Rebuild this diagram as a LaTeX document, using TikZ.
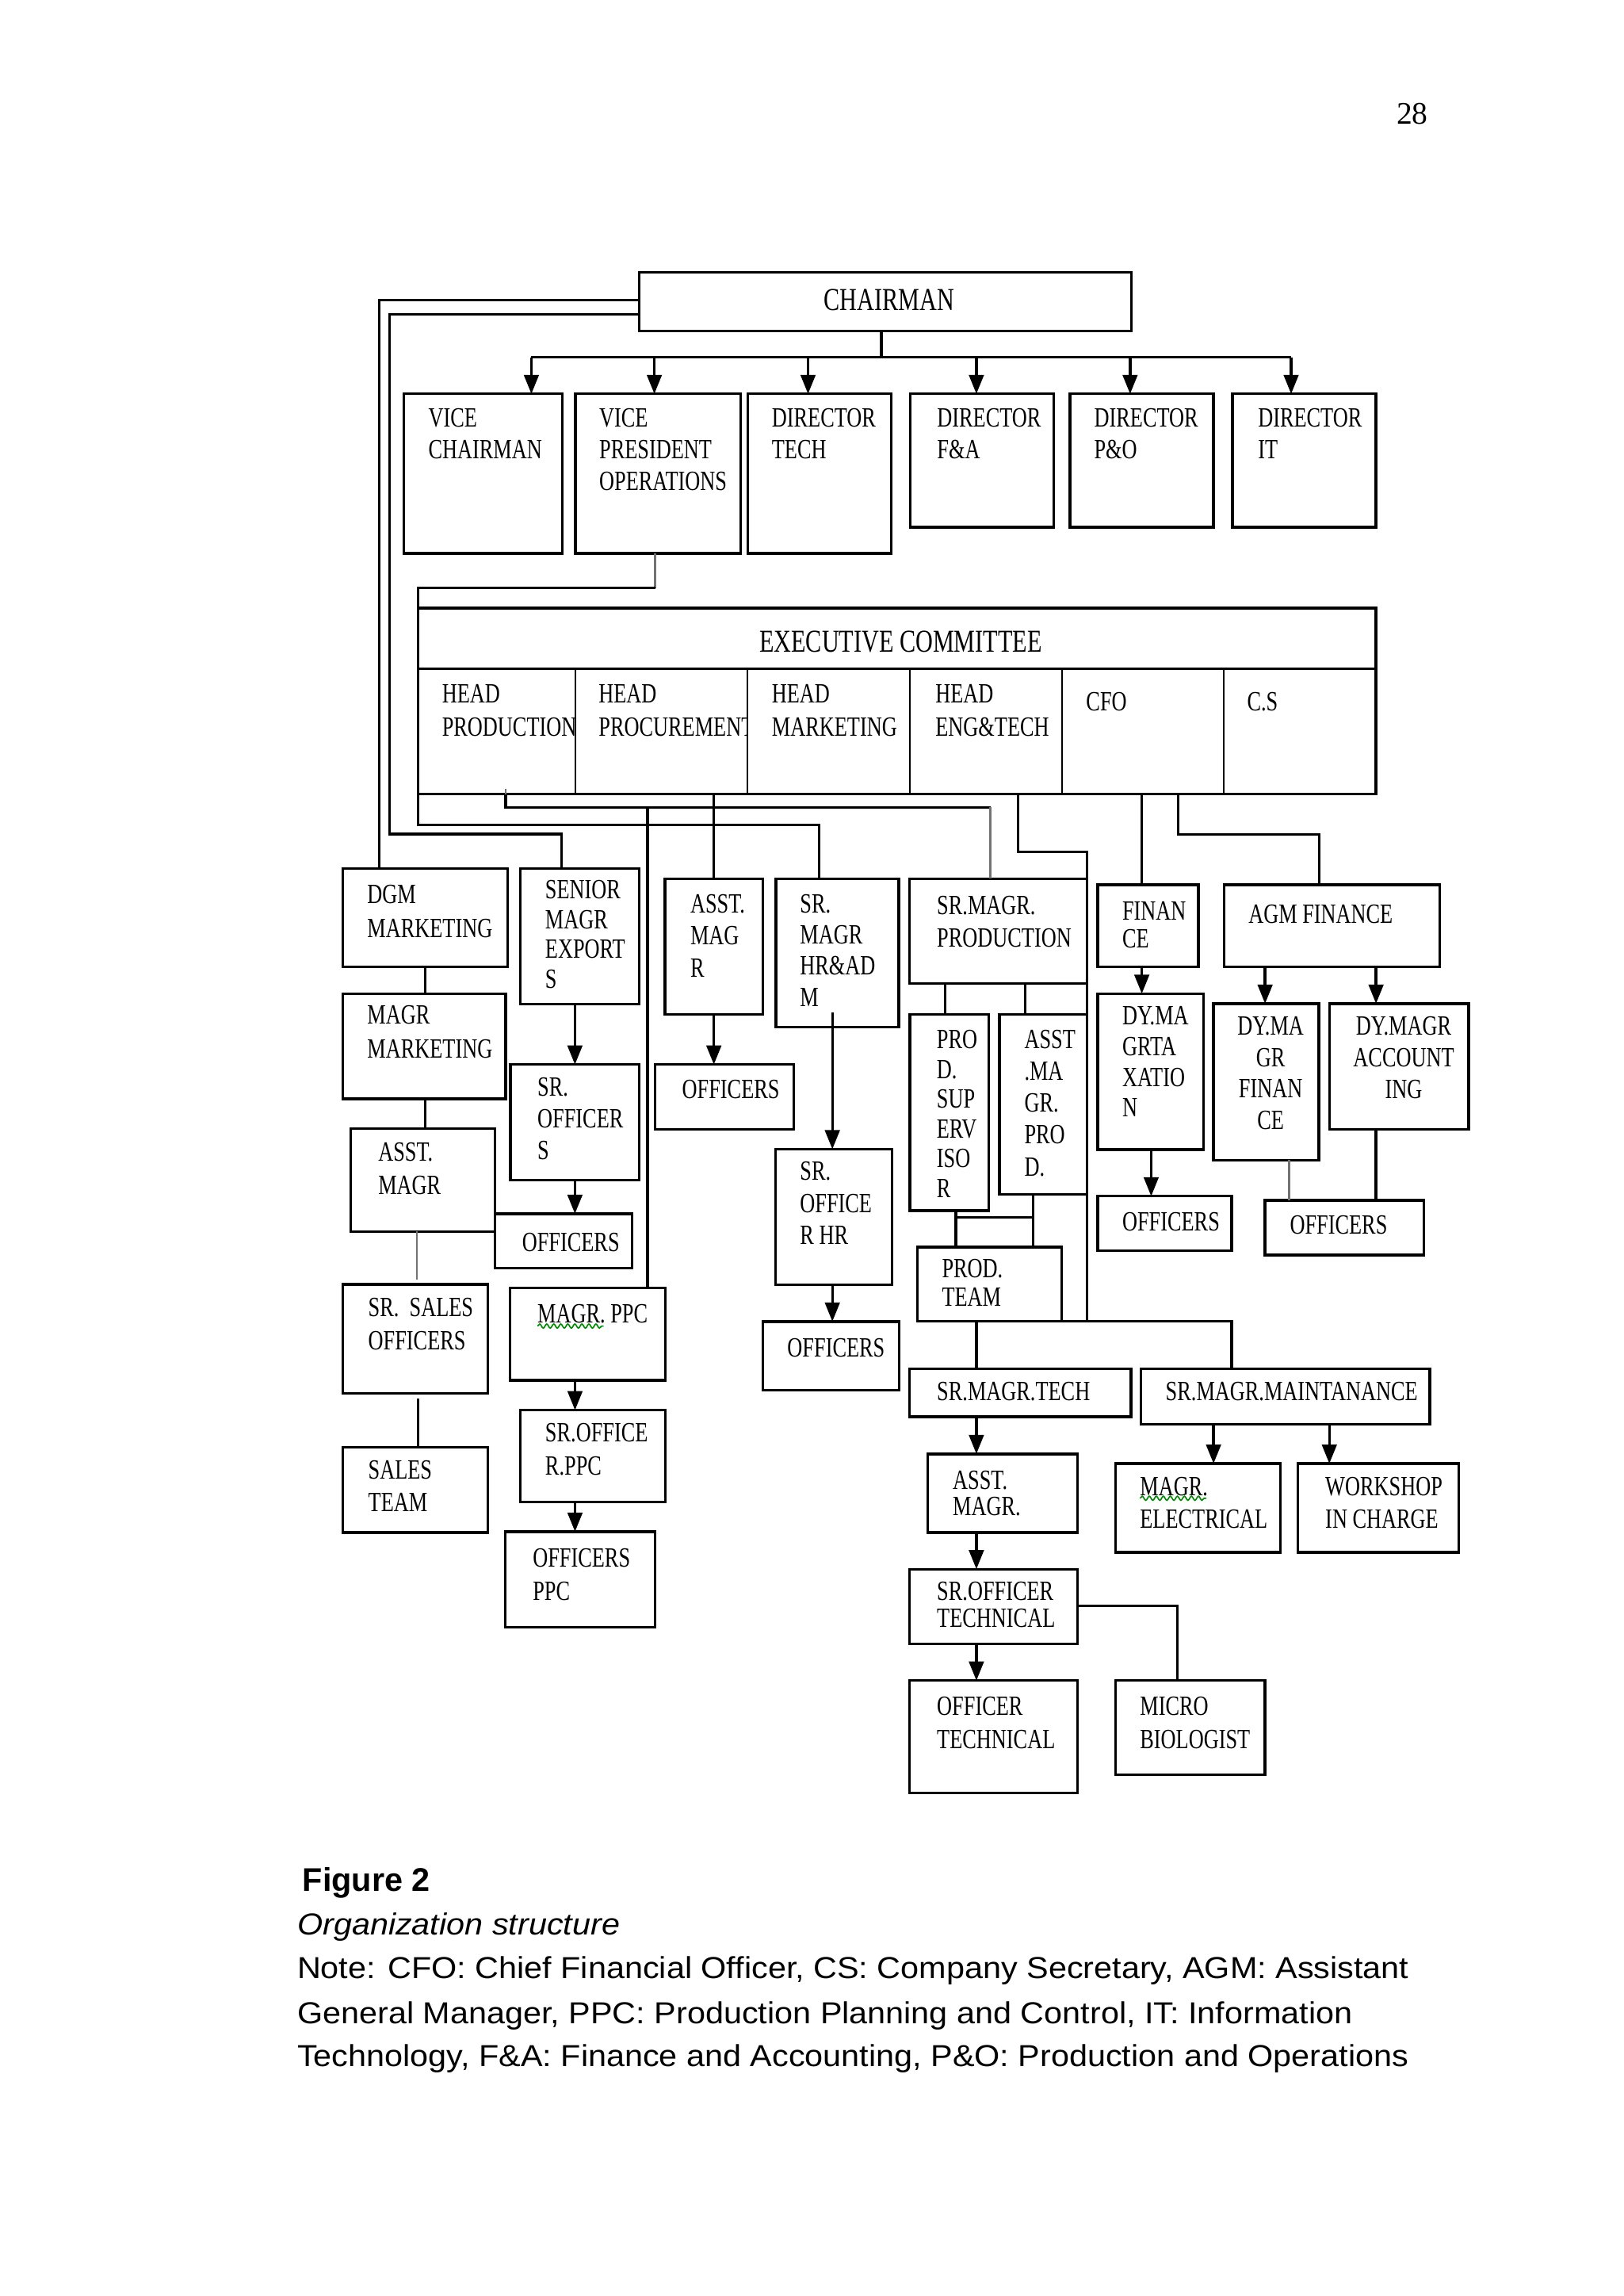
\documentclass[tikz,border=0pt]{standalone}
\usepackage{fontspec}
\setmainfont{Liberation Serif}
\newfontfamily\bxfont[FakeStretch=0.75]{Liberation Serif}
\newfontfamily\capfont[FakeStretch=1.08]{Liberation Sans}
\newfontfamily\capbfont{Liberation Sans}
\usetikzlibrary{arrows.meta,decorations.pathmorphing}

\newcommand\orgbox[5]{\node[obox, minimum width={(#4-#2)*0.5pt}, minimum height={(#5-#3)*0.5pt}] (#1) at (#2,#3) {};}
\newcommand\orgcell[5]{\node[ocell, minimum width={(#4-#2)*0.5pt}, minimum height={(#5-#3)*0.5pt}] (#1) at (#2,#3) {};}
\newcommand\orgtext[6][]{\node[otext, font=\bxfont\fontsize{9.5}{#5}\selectfont, #1] (#2) at (#3,#4) {#6};}

\begin{document}
\begin{tikzpicture}[x=0.5pt, y=-0.5pt,
  obox/.style={draw, line width=0.9pt, inner sep=0pt, outer sep=0pt, anchor=north west},
  ocell/.style={draw, line width=0.6pt, inner sep=0pt, outer sep=0pt, anchor=north west},
  otext/.style={inner sep=0pt, outer sep=0pt, anchor=north west, align=left},
  ln/.style={line width=0.9pt},
  gln/.style={line width=0.7pt, black!55},
  arr/.style={ln, -{Triangle[length=6.5pt,width=5pt]}},
  wavy/.style={green!55!black, line width=0.45pt, decorate, decoration={snake, amplitude=0.7pt, segment length=2.4pt}},
  captxt/.style={inner sep=0pt, anchor=base west, font=\capfont\fontsize{10.37}{13}\selectfont},
]
\fill[white] (0,0) rectangle (1109,1568);
\useasboundingbox (0,0) rectangle (1109,1568);

% page number
\node[inner sep=0pt, anchor=base, font=\fontsize{10.7}{12}\selectfont] (pg) at (964.7,84.8) {28};

% ---------- top levels ----------
\orgbox{chair}{436.5}{186}{773}{226}
\node[otext, anchor=north, font=\bxfont\fontsize{10.9}{13}\selectfont] (chair-t) at (607.5,197.6) {CHAIRMAN};

\orgbox{vc}{276}{269}{384}{378}
\orgbox{vp}{393}{269}{506}{378}
\orgbox{dt}{511}{269}{609}{378}
\orgbox{dfa}{622}{269}{720}{360}
\orgbox{dpo}{731}{269}{829}{360}
\orgbox{dit}{842}{269}{940}{360}
\orgtext{vc-t}{292.7}{278.9}{11}{VICE\\CHAIRMAN}
\orgtext{vp-t}{409.4}{278.9}{10.9}{VICE\\PRESIDENT\\OPERATIONS}
\orgtext{dt-t}{527.3}{278.9}{11}{DIRECTOR\\TECH}
\orgtext{dfa-t}{640.2}{278.9}{11}{DIRECTOR\\F\&A}
\orgtext{dpo-t}{747.5}{278.9}{11}{DIRECTOR\\P\&O}
\orgtext{dit-t}{859.4}{278.9}{11}{DIRECTOR\\IT}

% executive committee
\orgcell{hprod}{285.7}{456.6}{393}{542.4}
\orgcell{hproc}{393}{456.6}{510.5}{542.4}
\orgcell{hmkt}{510.5}{456.6}{621.5}{542.4}
\orgcell{heng}{621.5}{456.6}{725.6}{542.4}
\orgcell{cfo}{725.6}{456.6}{836}{542.4}
\orgcell{cs}{836}{456.6}{940}{542.4}
\orgbox{exect}{285.7}{415.2}{940}{456.6}
\draw[line width=0.9pt] (exect.north west) rectangle (cs.south east);
\node[otext, anchor=north, font=\bxfont\fontsize{10.9}{13}\selectfont] (exect-t) at (615.3,431) {EXECUTIVE COMMITTEE};
\orgtext{hprod-t}{302}{467.5}{11.25}{HEAD\\PRODUCTION}
\begin{scope}
\clip (hproc.north west) rectangle (hproc.south east);
\orgtext{hproc-t}{409}{467.5}{11.25}{HEAD\\PROCUREMENT}
\end{scope}
\orgtext{hmkt-t}{527.3}{467.5}{11.25}{HEAD\\MARKETING}
\orgtext{heng-t}{639.1}{467.5}{11.25}{HEAD\\ENG\&TECH}
\orgtext{cfo-t}{742}{472.9}{11}{CFO}
\orgtext{cs-t}{852}{472.9}{11}{C.S}

% ---------- level 3 ----------
\orgbox{dgm}{234.2}{593}{346.8}{660.3}
\orgbox{magrm}{234.2}{678.6}{345.4}{750.5}
\orgbox{asstm}{239.5}{770.9}{338.2}{841}
\orgbox{srsales}{234.2}{877.2}{333.3}{951.6}
\orgbox{salest}{234.2}{988.2}{333.3}{1046.6}
\orgbox{senior}{355.6}{593}{436.8}{685.8}
\orgbox{srof}{348.7}{727}{436.8}{805.9}
\orgbox{off1}{338.2}{828.9}{431.7}{866.2}
\orgbox{magrppc}{348.3}{879.4}{454.6}{942.6}
\orgbox{srofppc}{355.6}{963}{454.6}{1025.6}
\orgbox{offppc}{345.2}{1046}{447.4}{1111.3}
\orgbox{asstmag}{454.2}{600}{521.1}{692.7}
\orgbox{off2}{447.4}{727}{542.2}{771.4}
\orgbox{hradm}{530}{600}{614}{701.6}
\orgbox{srofhr}{529.8}{784.8}{609.2}{877.4}
\orgbox{off3}{521.3}{902.5}{614.2}{949.4}
\orgbox{srmprod}{621.3}{600}{742.7}{671.5}
\orgbox{prodsup}{621.5}{692.8}{675.6}{826.7}
\orgbox{asstprod}{682.8}{692.8}{742.4}{815.5}
\orgbox{prodteam}{626.7}{851.6}{725.2}{902.4}
\orgbox{fin}{749.8}{604.2}{818.7}{660.3}
\orgbox{dytax}{749.8}{678.6}{822}{785}
\orgbox{off4}{749.8}{816.9}{841.3}{854.2}
\orgbox{agm}{836.2}{604.2}{983.6}{660.3}
\orgbox{dyfin}{829}{685.4}{900.9}{792.3}
\orgbox{dyacc}{908.2}{685.4}{1003.2}{771.4}
\orgbox{off5}{864.2}{819.8}{972.8}{857.1}
\orgbox{srtech}{621.3}{934.9}{772.6}{967.6}
\orgbox{srmaint}{779.4}{934.9}{976.8}{972.7}
\orgbox{asstt}{633.6}{992.9}{736}{1046.5}
\orgbox{srott}{621.3}{1071.6}{736}{1122.7}
\orgbox{offt}{621.3}{1147.7}{736}{1224.3}
\orgbox{micro}{762.1}{1147.7}{864.2}{1212.1}
\orgbox{magre}{762.1}{999.5}{874.5}{1060.1}
\orgbox{wksp}{886.5}{999.5}{996.5}{1060.1}

\orgtext{dgm-t}{250.9}{604.2}{11.6}{DGM\\MARKETING}
\orgtext{magrm-t}{250.9}{686.7}{11.7}{MAGR\\MARKETING}
\orgtext{asstm-t}{258.4}{780.1}{11.45}{ASST.\\MAGR}
\orgtext{srsales-t}{251.6}{886.3}{11.55}{SR.\ \ SALES\\OFFICERS}
\orgtext{salest-t}{251.6}{997.3}{11.25}{SALES\\TEAM}
\orgtext{senior-t}{372.5}{601.3}{10.15}{SENIOR\\MAGR\\EXPORT\\S}
\orgtext{srof-t}{367.2}{735.7}{10.85}{SR.\\OFFICER\\S}
\orgtext{off1-t}{356.7}{842}{11}{OFFICERS}
\orgtext{magrppc-t}{367.2}{890.8}{11}{MAGR. PPC}
\orgtext{srofppc-t}{372.5}{972}{11.3}{SR.OFFICE\\R.PPC}
\orgtext{offppc-t}{364}{1057.4}{11.45}{OFFICERS\\PPC}
\orgtext{asstmag-t}{471.6}{610.9}{10.9}{ASST.\\MAG\\R}
\orgtext{off2-t}{466}{737.6}{11}{OFFICERS}
\orgtext{hradm-t}{546.5}{610.9}{10.6}{SR.\\MAGR\\HR\&AD\\M}
\orgtext{srofhr-t}{546.5}{793.3}{11}{SR.\\OFFICE\\R HR}
\orgtext{off3-t}{537.9}{914.2}{11}{OFFICERS}
\orgtext{srmprod-t}{640.1}{611.9}{11.1}{SR.MAGR.\\PRODUCTION}
\orgtext{prodsup-t}{639.9}{703.7}{10.15}{PRO\\D.\\SUP\\ERV\\ISO\\R}
\orgtext{asstprod-t}{699.8}{703.6}{10.85}{ASST\\.MA\\GR.\\PRO\\D.}
\orgtext{prodteam-t}{643.5}{860.1}{9.65}{PROD.\\TEAM}
\orgtext{fin-t}{766.7}{615.8}{9.4}{FINAN\\CE}
\orgtext{agm-t}{852.9}{617.7}{11}{AGM FINANCE}
\orgtext{dytax-t}{766.7}{687.3}{10.5}{DY.MA\\GRTA\\XATIO\\N}
\orgtext{off4-t}{766.7}{828.1}{11}{OFFICERS}
\orgtext[anchor=north, align=center]{dyfin-t}{868}{694.1}{10.8}{DY.MA\\GR\\FINAN\\CE}
\orgtext[anchor=north, align=center]{dyacc-t}{958.9}{694.1}{10.9}{DY.MAGR\\ACCOUNT\\ING}
\orgtext{off5-t}{881.2}{830.4}{11}{OFFICERS}
\orgtext{srtech-t}{640.1}{943.8}{11}{SR.MAGR.TECH}
\orgtext{srmaint-t}{796.3}{943.8}{11}{SR.MAGR.MAINTANANCE}
\orgtext{asstt-t}{650.9}{1004.6}{9}{ASST.\\MAGR.}
\orgtext{srott-t}{640.1}{1080.5}{9}{SR.OFFICER\\TECHNICAL}
\orgtext{offt-t}{640.1}{1159}{11.25}{OFFICER\\TECHNICAL}
\orgtext{micro-t}{778.8}{1159}{11.25}{MICRO\\BIOLOGIST}
\orgtext{magre-t}{778.8}{1009}{11.1}{MAGR.\\ELECTRICAL}
\orgtext{wksp-t}{905.4}{1009}{11.1}{WORKSHOP\\IN CHARGE}

% grammar-check underlines
\draw[wavy] (367.2,905.6) -- (412.4,905.6);
\draw[wavy] (778.8,1023.2) -- (824.1,1023.2);

% ---------- connectors: chairman ----------
\coordinate (bus) at (602,244);
\coordinate (t1) at (363,244);
\coordinate (t2) at (447,244);
\coordinate (t3) at (552,244);
\coordinate (t4) at (667,244);
\coordinate (t5) at (772,244);
\coordinate (t6) at (882,244);
\draw[ln] (bus |- chair.south) -- (bus);
\draw[ln] (t1) -- (t6);
\draw[arr] (t1) -- (t1 |- vc.north);
\draw[arr] (t2) -- (t2 |- vp.north);
\draw[arr] (t3) -- (t3 |- dt.north);
\draw[arr] (t4) -- (t4 |- dfa.north);
\draw[arr] (t5) -- (t5 |- dpo.north);
\draw[arr] (t6) -- (t6 |- dit.north);

% side loops from chairman
\coordinate (L1) at (259,205);
\draw[ln] (L1 -| chair.west) -- (L1) -- (L1 |- dgm.north);
\coordinate (L2) at (266,214.5);
\coordinate (L2b) at (266,569.5);
\coordinate (L2c) at (383.7,569.5);
\draw[ln] (L2 -| chair.west) -- (L2) -- (L2b) -- (L2c) -- (L2c |- senior.north);

% vice president to executive committee
\coordinate (V1) at (447.6,401.6);
\draw[gln] (V1 |- vp.south) -- (V1);
\draw[ln] (V1) -- (V1 -| exect.west) -- (exect.north west);

% ---------- connectors: executive committee ----------
\coordinate (E4) at (559.5,563.2);
\draw[ln] (hprod.south west) -- (hprod.south west |- E4) -- (E4) -- (E4 |- hradm.north);
\coordinate (E5top) at (345.4,538.6);
\coordinate (E5a) at (345.4,551.4);
\coordinate (E5b) at (676.6,551.4);
\draw[gln] (E5top) -- (E5top |- hprod.south);
\draw[ln] (E5a |- hprod.south) -- (E5a) -- (E5b);
\draw[gln] (E5b) -- (E5b |- srmprod.north);
\coordinate (E6) at (442.4,551.4);
\draw[ln] (E6) -- (E6 |- magrppc.north);
\coordinate (E7) at (487.6,560);
\draw[ln] (E7 |- hproc.south) -- (E7 |- asstmag.north);
\coordinate (E8a) at (695.4,581.6);
\coordinate (E8b) at (742.7,581.6);
\coordinate (E8c) at (742.7,902.4);
\draw[ln] (E8a |- heng.south) -- (E8a) -- (E8b) -- (E8c);
\coordinate (E9) at (780,560);
\draw[ln] (E9 |- cfo.south) -- (E9 |- fin.north);
\coordinate (E10a) at (804.8,570);
\coordinate (E10b) at (901.2,570);
\draw[ln] (E10a |- cfo.south) -- (E10a) -- (E10b) -- (E10b |- agm.north);

% ---------- connectors: marketing / exports ----------
\draw[ln] (dgm.south) -- (dgm.south |- magrm.north);
\draw[ln] (dgm.south |- magrm.south) -- (dgm.south |- asstm.north);
\coordinate (S1) at (284.9,874);
\draw[gln] (S1 |- asstm.south) -- (S1);
\coordinate (S2) at (285.5,955.2);
\draw[ln] (S2) -- (S2 |- salest.north);
\draw[arr] (srof.north |- senior.south) -- (srof.north);
\draw[arr] (srof.south) -- (srof.south |- off1.north);
\coordinate (P1) at (392.8,960);
\draw[arr] (P1 |- magrppc.south) -- (P1 |- srofppc.north);
\draw[arr] (P1 |- srofppc.south) -- (P1 |- offppc.north);
\draw[arr] (asstmag.south) -- (asstmag.south |- off2.north);
\coordinate (H1) at (568.6,691.6);
\draw[arr] (H1) -- (H1 |- srofhr.north);
\draw[arr] (H1 |- srofhr.south) -- (H1 |- off3.north);

% ---------- connectors: production ----------
\coordinate (Q1) at (645.8,680);
\coordinate (Q2) at (700.3,680);
\draw[ln] (Q1 |- srmprod.south) -- (Q1 |- prodsup.north);
\draw[ln] (Q2 |- srmprod.south) -- (Q2 |- asstprod.north);
\coordinate (Q3) at (653,831.2);
\coordinate (Q4) at (705.8,831.2);
\draw[ln] (Q3 |- prodsup.south) -- (Q3 |- prodteam.north);
\draw[ln] (Q4 |- asstprod.south) -- (Q4 |- prodteam.north);
\draw[ln] (Q3) -- (Q4);
\coordinate (R1) at (841.3,902.4);
\draw[ln] (prodteam.south east) -- (R1) -- (R1 |- srmaint.north);
\coordinate (R2) at (667,920);
\draw[ln] (R2 |- prodteam.south) -- (R2 |- srtech.north);
\draw[arr] (R2 |- srtech.south) -- (R2 |- asstt.north);
\draw[arr] (R2 |- asstt.south) -- (R2 |- srott.north);
\draw[arr] (R2 |- srott.south) -- (R2 |- offt.north);
\coordinate (M1) at (804.4,1096.6);
\draw[ln] (M1 -| srott.east) -- (M1) -- (M1 |- micro.north);
\coordinate (W1) at (829,980);
\coordinate (W2) at (908.1,980);
\draw[arr] (W1 |- srmaint.south) -- (W1 |- magre.north);
\draw[arr] (W2 |- srmaint.south) -- (W2 |- wksp.north);

% ---------- connectors: finance ----------
\draw[arr] (E9 |- fin.south) -- (E9 |- dytax.north);
\coordinate (F1) at (786.4,800);
\draw[arr] (F1 |- dytax.south) -- (F1 |- off4.north);
\coordinate (F2) at (864.2,670);
\coordinate (F3) at (940,670);
\draw[arr] (F2 |- agm.south) -- (F2 |- dyfin.north);
\draw[arr] (F3 |- agm.south) -- (F3 |- dyacc.north);
\coordinate (F4) at (880.7,800);
\draw[gln] (F4 |- dyfin.south) -- (F4 |- off5.north);
\draw[ln] (F3 |- dyacc.south) -- (F3 |- off5.north);

% ---------- caption ----------
\node[inner sep=0pt, anchor=base west, font=\capbfont\bfseries\fontsize{11.2}{13}\selectfont] (fig) at (206.3,1291.5) {Figure 2};
\node[captxt, font=\capfont\itshape\fontsize{10.37}{13}\selectfont] (orgs) at (202.7,1321.3) {Organization structure};
\node[captxt] (note1) at (202.7,1351) {Note: CFO: Chief Financial Officer, CS: Company Secretary, AGM: Assistant};
\node[captxt] (note2) at (202.7,1381.8) {General Manager, PPC: Production Planning and Control, IT: Information};
\node[captxt] (note3) at (202.7,1411.2) {Technology, F\&A: Finance and Accounting, P\&O: Production and Operations};
\end{tikzpicture}
\end{document}
